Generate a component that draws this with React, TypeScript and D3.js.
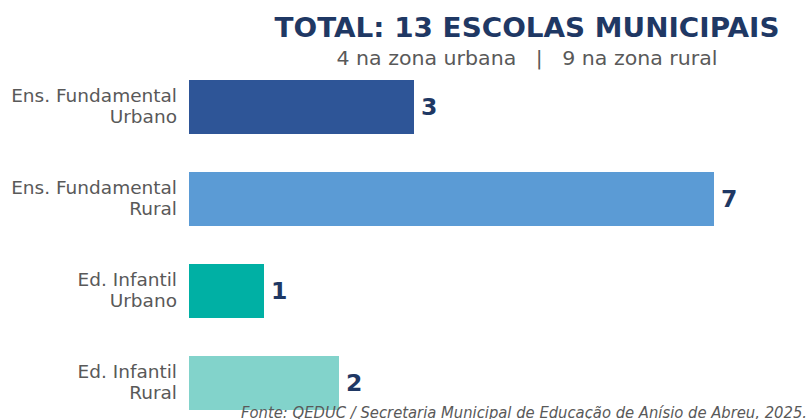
import React from "react";
import * as d3 from "d3";

const categories = [
  ["Ens. Fundamental", "Urbano"],
  ["Ens. Fundamental", "Rural"],
  ["Ed. Infantil", "Urbano"],
  ["Ed. Infantil", "Rural"],
];
const values = [3, 7, 1, 2];
const colors = ["#2e5597", "#5b9bd5", "#00b0a4", "#82d3cb"];
const title = "TOTAL: 13 ESCOLAS MUNICIPAIS";
const subtitle = "4 na zona urbana   |   9 na zona rural";
const source = "Fonte: QEDUC / Secretaria Municipal de Educação de Anísio de Abreu, 2025.";

const W = 809;
const H = 419;
const FONT = "'DejaVu Sans', sans-serif";

export default function App() {
  const x = d3.scaleLinear().domain([0, 7]).range([189, 714]);
  const inner = 38 / 92;
  const outer = 0.2;
  const r0 = 80 - outer * 92;
  const r1 = r0 + 92 * (values.length - inner + 2 * outer);
  const y = d3
    .scaleBand<number>()
    .domain(d3.range(values.length))
    .range([r0, r1])
    .paddingInner(inner)
    .paddingOuter(outer);

  return (
    <svg
      width={W}
      height={H}
      style={{ position: "absolute", left: 0, top: 0, background: "#fff" }}
      fontFamily={FONT}
    >
      <text x={527} y={37} textAnchor="middle" fontSize={27} fontWeight="bold" fill="#1f3864" textLength={505} lengthAdjust="spacingAndGlyphs">
        {title}
      </text>
      <text x={527} y={65} textAnchor="middle" fontSize={20} fill="#595959" xmlSpace="preserve" textLength={381} lengthAdjust="spacingAndGlyphs">
        {subtitle}
      </text>
      {values.map((v, i) => {
        const y0 = y(i)!;
        const bh = y.bandwidth();
        const cy = y0 + bh / 2;
        return (
          <g key={i}>
            <rect x={x(0)} y={y0} width={x(v) - x(0)} height={bh} fill={colors[i]} />
            <text x={x(v) + 7} y={cy + 8} fontSize={23.5} fontWeight="bold" fill="#1f3864">
              {v}
            </text>
            <text x={177} y={cy - 5} textAnchor="end" fontSize={18.5} fill="#595959">
              {categories[i][0]}
            </text>
            <text x={177} y={cy + 16} textAnchor="end" fontSize={18.5} fill="#595959">
              {categories[i][1]}
            </text>
          </g>
        );
      })}
      <text x={241} y={418} fontSize={15} fontStyle="italic" fill="#595959" textLength={566} lengthAdjust="spacingAndGlyphs">
        {source}
      </text>
    </svg>
  );
}
